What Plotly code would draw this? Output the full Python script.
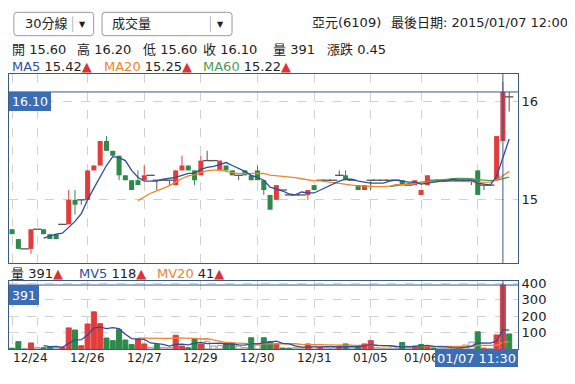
import numpy as np
import pandas as pd
import plotly.graph_objects as go

# ---------------- data ----------------
days = ["12/23", "12/24", "12/26", "12/27", "12/29", "12/30", "12/31", "01/05", "01/06", "01/07"]
bars_per_day = [4, 8, 9, 9, 9, 9, 9, 8, 9, 6]

opens = [14.70, 14.60, 14.50, 14.50, 14.70, 14.70, 14.65, 14.65, 14.75, 14.75,
         15.00, 15.00, 15.00, 15.30, 15.35, 15.60, 15.50, 15.45, 15.25, 15.20,
         15.20, 15.20, 15.25, 15.20, 15.20, 15.20, 15.15, 15.30, 15.35, 15.30,
         15.25, 15.40, 15.40, 15.30, 15.35, 15.30, 15.25, 15.30, 15.25, 15.30,
         15.20, 15.05, 15.00, 15.10, 15.05, 15.05, 15.05, 15.05, 15.15, 15.20,
         15.20, 15.20, 15.25, 15.25, 15.20, 15.15, 15.10, 15.20, 15.20, 15.20,
         15.20, 15.20, 15.20, 15.15, 15.15, 15.05, 15.15, 15.20, 15.20, 15.20,
         15.20, 15.20, 15.20, 15.20, 15.30, 15.15, 15.15, 15.20, 15.60, 16.05]
highs = [14.70, 14.60, 14.50, 14.70, 14.70, 14.70, 14.65, 14.65, 14.75, 15.10,
         15.10, 15.00, 15.30, 15.35, 15.60, 15.65, 15.50, 15.45, 15.25, 15.20,
         15.30, 15.35, 15.25, 15.20, 15.20, 15.20, 15.30, 15.45, 15.35, 15.30,
         15.45, 15.50, 15.40, 15.40, 15.35, 15.30, 15.25, 15.30, 15.25, 15.35,
         15.20, 15.05, 15.15, 15.10, 15.05, 15.05, 15.05, 15.10, 15.15, 15.20,
         15.20, 15.20, 15.30, 15.30, 15.20, 15.15, 15.15, 15.20, 15.20, 15.20,
         15.20, 15.20, 15.20, 15.15, 15.20, 15.10, 15.25, 15.20, 15.20, 15.20,
         15.20, 15.20, 15.20, 15.20, 15.30, 15.15, 15.15, 15.65, 16.20, 16.10]
lows = [14.65, 14.50, 14.50, 14.45, 14.70, 14.65, 14.60, 14.60, 14.75, 14.75,
        14.85, 14.95, 15.00, 15.30, 15.35, 15.50, 15.45, 15.20, 15.20, 15.10,
        15.15, 15.20, 15.25, 15.10, 15.20, 15.15, 15.15, 15.30, 15.30, 15.15,
        15.25, 15.40, 15.40, 15.30, 15.30, 15.25, 15.20, 15.25, 15.20, 15.20,
        15.05, 14.90, 15.00, 15.10, 15.05, 15.05, 15.05, 15.00, 15.10, 15.20,
        15.20, 15.20, 15.25, 15.20, 15.20, 15.10, 15.10, 15.10, 15.20, 15.20,
        15.20, 15.20, 15.15, 15.15, 15.15, 15.05, 15.15, 15.20, 15.20, 15.20,
        15.20, 15.20, 15.20, 15.15, 15.05, 15.10, 15.15, 15.20, 15.60, 15.90]
closes = [14.65, 14.50, 14.50, 14.70, 14.70, 14.65, 14.60, 14.60, 14.75, 15.00,
          14.95, 15.00, 15.30, 15.35, 15.60, 15.50, 15.45, 15.25, 15.20, 15.10,
          15.15, 15.25, 15.25, 15.20, 15.20, 15.20, 15.30, 15.35, 15.30, 15.20,
          15.40, 15.40, 15.40, 15.40, 15.30, 15.25, 15.25, 15.25, 15.20, 15.20,
          15.10, 14.90, 15.15, 15.10, 15.05, 15.05, 15.05, 15.10, 15.10, 15.20,
          15.20, 15.20, 15.25, 15.20, 15.20, 15.10, 15.15, 15.20, 15.20, 15.20,
          15.20, 15.20, 15.15, 15.15, 15.20, 15.10, 15.25, 15.20, 15.20, 15.20,
          15.20, 15.20, 15.20, 15.20, 15.05, 15.15, 15.15, 15.65, 16.10, 16.05]
volumes = [5, 45, 4, 37, 10, 8, 14, 10, 10, 129,
           116, 20, 153, 227, 155, 67, 51, 120, 55, 27,
           61, 31, 10, 27, 10, 8, 84, 18, 8, 63,
           31, 47, 18, 22, 35, 35, 18, 8, 69, 24,
           69, 45, 31, 6, 5, 8, 8, 31, 18, 10,
           8, 8, 18, 31, 8, 12, 31, 51, 8, 6,
           6, 6, 40, 8, 18, 28, 18, 6, 6, 6,
           6, 6, 24, 42, 105, 5, 4, 86, 391, 92]

stock_name = "亞元(6109)"
last_date = "2015/01/07 12:00"
cursor_label = "01/07 11:30"
cursor_bar = 78
price_ticks = [15, 16]
vol_ticks = [100, 200, 300, 400]

# ---------------- derived ----------------
O = np.array(opens); Hh = np.array(highs); L = np.array(lows); C = np.array(closes)
V = np.array(volumes)
n = len(C)
x = np.arange(n)
day_starts = list(np.cumsum([0] + bars_per_day[:-1]))


def masked_ma(series, w):
    s = pd.Series(series, dtype=float).rolling(w).mean()
    s[:w] = np.nan
    return s


ma5, ma20, ma60 = masked_ma(C, 5), masked_ma(C, 20), masked_ma(C, 60)
mv5, mv20 = masked_ma(V, 5), masked_ma(V, 20)

diff = np.round(C - O, 4)
up, dn, flat = diff > 0, diff < 0, diff == 0
prevC = np.concatenate([[O[0]], C[:-1]])
vdiff = np.round(C - prevC, 4)

# ---------------- style / geometry (page pixels; page body has an 8px margin) ----------------
PAGE_OFF = 8
FIG_W, FIG_H = 575 - 2 * PAGE_OFF, 384 - 2 * PAGE_OFF
PL, PR, PT, PB = 9, 517.7, 74.3, 349          # plot area edges in page pixels
MAIN_BOTTOM, VOL_TOP = 263, 280.7
ML, MT = PL - PAGE_OFF, PT - PAGE_OFF
MR, MB = PAGE_OFF + FIG_W - PR, PAGE_OFF + FIG_H - PB
PW, PH = PR - PL, PB - PT
FONT = "DejaVu Sans, Noto Sans CJK TC, sans-serif"
RED, GREEN, GRAY = "#e23c3c", "#2e8a4a", "#555555"
BLUE_MA, ORANGE_MA, GREEN_MA = "#2c4f9e", "#f0842c", "#4a9d56"
FRAME, CROSS, LABEL_BG, GRID = "#3a5a80", "#38578c", "#3a6db3", "#d2d2d2"
TRI = "<span style='color:#dd3333'>▲</span>"


def px(v):
    return (v - PL) / PW


def py(v):
    return 1 - (v - PT) / PH


fig = go.Figure()


def wicks(mask):
    xs, ys = [], []
    for i in np.where(mask)[0]:
        xs += [i, i, None]
        ys += [L[i], Hh[i], None]
    return xs, ys


for mask, col in [(up, RED), (dn, GREEN), (flat, GRAY)]:
    wx, wy = wicks(mask)
    fig.add_trace(go.Scatter(x=wx, y=wy, mode="lines", line=dict(color=col, width=1),
                             hoverinfo="skip", xaxis="x", yaxis="y"))

fig.add_trace(go.Bar(x=x[up], y=(C - O)[up], base=O[up], width=0.8,
                     marker=dict(color=RED, line=dict(width=0)), xaxis="x", yaxis="y"))
fig.add_trace(go.Bar(x=x[dn], y=(O - C)[dn], base=C[dn], width=0.8,
                     marker=dict(color=GREEN, line=dict(width=0)), xaxis="x", yaxis="y"))
fig.add_trace(go.Scatter(x=x[flat], y=C[flat], mode="markers",
                         marker=dict(symbol="line-ew", size=6, line=dict(color=GRAY, width=1.3)),
                         xaxis="x", yaxis="y"))

for s, col in [(ma60, GREEN_MA), (ma20, ORANGE_MA), (ma5, BLUE_MA)]:
    fig.add_trace(go.Scatter(x=x, y=s, mode="lines", line=dict(color=col, width=1.3),
                             xaxis="x", yaxis="y"))

vfill = [RED if d > 0 else GREEN if d < 0 else "white" for d in vdiff]
vline = [RED if d > 0 else GREEN if d < 0 else "#999999" for d in vdiff]
fig.add_trace(go.Bar(x=x, y=V, width=0.8, marker=dict(color=vfill, line=dict(color=vline, width=1)),
                     xaxis="x2", yaxis="y2"))
for s, col in [(mv20, ORANGE_MA), (mv5, BLUE_MA)]:
    fig.add_trace(go.Scatter(x=x, y=s, mode="lines", line=dict(color=col, width=1.3),
                             xaxis="x2", yaxis="y2"))

main_dom = [(PB - MAIN_BOTTOM) / PH, 1]
vol_dom = [0, (PB - VOL_TOP) / PH]
xr = [-0.49, 80.4]
axcommon = dict(showline=True, mirror=True, linecolor=FRAME, linewidth=1, zeroline=False,
                showgrid=True, gridcolor=GRID, griddash="dash", gridwidth=1, ticks="")

fig.update_layout(
    width=FIG_W, height=FIG_H, margin=dict(l=ML, r=MR, t=MT, b=MB, autoexpand=False),
    paper_bgcolor="white", plot_bgcolor="white", showlegend=False, barmode="overlay",
    hovermode=False, font=dict(family=FONT, size=12, color="#222"),
    xaxis=dict(domain=[0, 1], anchor="y", range=xr, tickvals=day_starts, showticklabels=False, **axcommon),
    xaxis2=dict(domain=[0, 1], anchor="y2", range=xr, matches="x", tickvals=day_starts,
                showticklabels=False, **axcommon),
    yaxis=dict(domain=main_dom, anchor="x", side="right", range=[14.357, 16.283], tickvals=price_ticks,
               ticktext=[str(t) for t in price_ticks], tickfont=dict(size=13), **axcommon),
    yaxis2=dict(domain=vol_dom, anchor="x2", side="right", range=[0, 418], tickvals=vol_ticks,
                tickfont=dict(size=13), **axcommon),
)

shapes = []
# crosshair
shapes.append(dict(type="line", xref="x", yref="paper", x0=cursor_bar, x1=cursor_bar,
                   y0=main_dom[0], y1=1, line=dict(color=CROSS, width=1)))
shapes.append(dict(type="line", xref="paper", yref="y", x0=0, x1=1,
                   y0=C[cursor_bar], y1=C[cursor_bar], line=dict(color=CROSS, width=1)))
shapes.append(dict(type="line", xref="x", yref="paper", x0=cursor_bar, x1=cursor_bar,
                   y0=0, y1=vol_dom[1], line=dict(color=CROSS, width=1)))
shapes.append(dict(type="line", xref="paper", yref="y2", x0=0, x1=1,
                   y0=V[cursor_bar], y1=V[cursor_bar], line=dict(color=CROSS, width=1)))


def rrect(x0, y0, x1, y1, r=3):
    X, Y = px, py
    return (f"M {X(x0 + r)},{Y(y0)} L {X(x1 - r)},{Y(y0)} Q {X(x1)},{Y(y0)} {X(x1)},{Y(y0 + r)} "
            f"L {X(x1)},{Y(y1 - r)} Q {X(x1)},{Y(y1)} {X(x1 - r)},{Y(y1)} L {X(x0 + r)},{Y(y1)} "
            f"Q {X(x0)},{Y(y1)} {X(x0)},{Y(y1 - r)} L {X(x0)},{Y(y0 + r)} Q {X(x0)},{Y(y0)} {X(x0 + r)},{Y(y0)} Z")


for (bx0, bx1, sep) in [(13.9, 93.6, 72.7), (102, 231.9, 210.3)]:
    shapes.append(dict(type="path", xref="paper", yref="paper", path=rrect(bx0, 12.7, bx1, 36),
                       line=dict(color="#9a9a9a", width=1), fillcolor="white"))
    shapes.append(dict(type="line", xref="paper", yref="paper", x0=px(sep), x1=px(sep),
                       y0=py(16.5), y1=py(32.5), line=dict(color="#bbbbbb", width=1)))
fig.update_layout(shapes=shapes)

ann = []


def txt(xp, yp, text, size=13, anchor="left", color="#222", **kw):
    ann.append(dict(xref="paper", yref="paper", x=px(xp), y=py(yp), text=text, showarrow=False,
                    xanchor=anchor, yanchor="middle", font=dict(size=size, color=color, family=FONT), **kw))


txt(22.8, 24, "30分線")
txt(110.1, 24, "成交量")
txt(82.6, 24.5, "▼", 8, anchor="center")
txt(220.2, 24.5, "▼", 8, anchor="center")
txt(310, 22.7, stock_name)
txt(388.3, 22.7, "最後日期: " + last_date)

i = cursor_bar
items = [(10.3, f"開 {O[i]:.2f}"), (75.2, f"高 {Hh[i]:.2f}"), (141.2, f"低 {L[i]:.2f}"),
         (201, f"收 {C[i]:.2f}"), (270.6, f"量 {V[i]}"), (324.5, f"漲跌 {C[i] - C[i - 1]:.2f}")]
for xp, t in items:
    txt(xp, 50, t)

txt(10.3, 66.5, f"<span style='color:{BLUE_MA}'>MA5</span> {ma5[i]:.2f}{TRI}")
txt(101.9, 66.5, f"<span style='color:{ORANGE_MA}'>MA20</span> {ma20[i]:.2f}{TRI}")
txt(201, 66.5, f"<span style='color:{GREEN_MA}'>MA60</span> {ma60[i]:.2f}{TRI}")

txt(9.3, 273.3, f"量 {V[i]}{TRI}")
txt(76.7, 273.3, f"<span style='color:{BLUE_MA}'>MV5</span> {mv5[i]:.0f}{TRI}")
txt(155, 273.3, f"<span style='color:{ORANGE_MA}'>MV20</span> {mv20[i]:.0f}{TRI}")

# date labels
for k, (d, s) in enumerate(zip(days, day_starts)):
    if k == 0 or k == len(days) - 1:
        continue
    ann.append(dict(xref="x2", yref="paper", x=s, y=py(358), text=d, showarrow=False,
                    xanchor="center", yanchor="middle", xshift=-7 if k == 1 else 0,
                    font=dict(size=12, color="#222", family=FONT)))

# value boxes attached to the crosshair
ann.append(dict(xref="paper", yref="y", x=0, y=C[i], text=f"{C[i]:.2f}", showarrow=False,
                xanchor="left", yanchor="top", width=42, height=19, bgcolor=LABEL_BG, borderpad=0,
                borderwidth=0, font=dict(size=12.5, color="white", family=FONT)))
ann.append(dict(xref="paper", yref="y2", x=0, y=V[i], text=f"{V[i]}", showarrow=False,
                xanchor="left", yanchor="top", width=30, height=20, bgcolor=LABEL_BG, borderpad=0,
                borderwidth=0, font=dict(size=12.5, color="white", family=FONT)))
ann.append(dict(xref="paper", yref="paper", x=px(518), y=py(349), text=cursor_label, showarrow=False,
                xanchor="right", yanchor="top", width=83, height=18, bgcolor=LABEL_BG, borderpad=0,
                borderwidth=0, font=dict(size=13, color="white", family=FONT)))

fig.update_layout(annotations=ann)
fig.write_html("out.html")
